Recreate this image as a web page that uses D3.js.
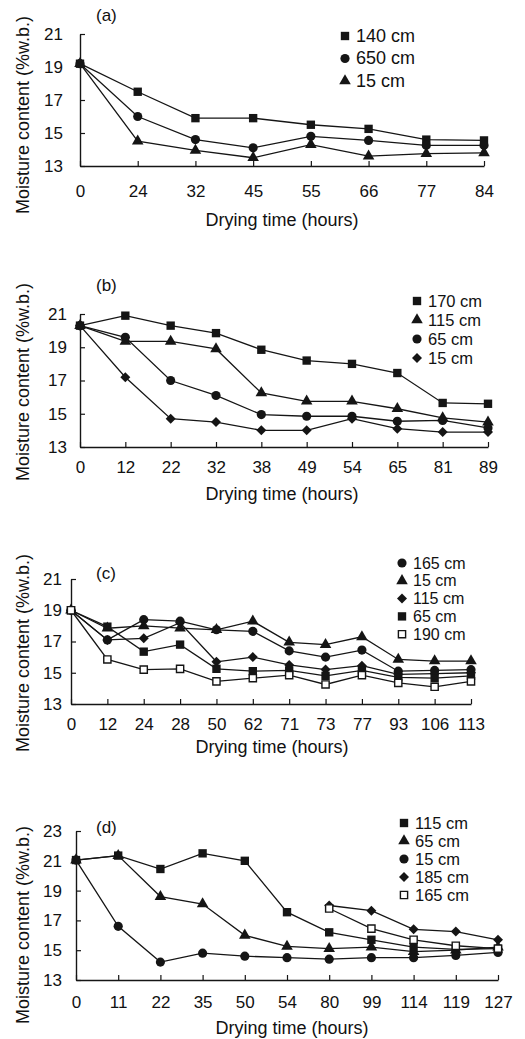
<!DOCTYPE html>
<html>
    <head>
        <title>Moisture content vs drying time</title>
        <meta charset="UTF-8">
        <script type="text/javascript" src="https://cdn.jsdelivr.net/npm/d3@7"></script>
        <style type="text/css">
            body { margin: 0; background: #fff; }
            text { font-family: "Liberation Sans", Arial, Helvetica, sans-serif; fill: #111; }
        </style>
    </head>
    <body>
        <div id="chart"></div>

        <script type="text/javascript">

            var svgW = 525;
            var svgH = 1039;

            // (a) drying time categories and series (moisture %w.b.)
            var timesA = ["0", "24", "32", "45", "55", "66", "77", "84"];
            var a140 = [19.2, 17.5, 15.9, 15.9, 15.5, 15.25, 14.6, 14.55];
            var a650 = [19.2, 16.0, 14.6, 14.1, 14.8, 14.55, 14.25, 14.25];
            var a15 = [19.2, 14.5, 13.95, 13.5, 14.3, 13.6, 13.75, 13.8];

            // (b)
            var timesB = ["0", "12", "22", "32", "38", "49", "54", "65", "81", "89"];
            var b170 = [20.3, 20.9, 20.3, 19.85, 18.85, 18.2, 18.0, 17.45, 15.65, 15.6];
            var b115 = [20.3, 19.35, 19.35, 18.9, 16.25, 15.75, 15.75, 15.3, 14.75, 14.5];
            var b65 = [20.3, 19.6, 17.0, 16.1, 14.95, 14.85, 14.85, 14.55, 14.6, 14.15];
            var b15 = [20.3, 17.2, 14.7, 14.5, 14.0, 14.0, 14.7, 14.1, 13.9, 13.9];

            // (c)
            var timesC = ["0", "12", "24", "28", "50", "62", "71", "73", "77", "93", "106", "113"];
            var c165 = [19.0, 17.1, 18.4, 18.3, 17.75, 17.65, 16.4, 16.0, 16.45, 15.1, 15.15, 15.2];
            var c15 = [19.0, 17.85, 18.0, 17.85, 17.75, 18.3, 16.95, 16.8, 17.3, 15.85, 15.75, 15.75];
            var c115 = [19.0, 17.1, 17.2, 18.2, 15.7, 16.0, 15.5, 15.2, 15.45, 14.9, 14.95, 15.0];
            var c65 = [19.0, 17.95, 16.35, 16.8, 15.25, 15.1, 15.15, 14.8, 15.15, 14.7, 14.65, 14.8];
            var c190 = [19.0, 15.85, 15.2, 15.25, 14.45, 14.65, 14.85, 14.25, 14.85, 14.35, 14.1, 14.45];

            // (d) - 185 cm and 165 cm start at 80 h
            var timesD = ["0", "11", "22", "35", "50", "54", "80", "99", "114", "119", "127"];
            var d115 = [21.05, 21.35, 20.45, 21.5, 21.0, 17.55, 16.2, 15.7, 15.2, 15.05, 15.1];
            var d65 = [21.05, 21.35, 18.6, 18.1, 16.0, 15.25, 15.1, 15.2, 14.9, 15.0, 15.2];
            var d15 = [21.05, 16.6, 14.2, 14.8, 14.6, 14.5, 14.4, 14.5, 14.5, 14.65, 14.85];
            var d185 = [null, null, null, null, null, null, 18.0, 17.65, 16.4, 16.25, 15.7];
            var d165 = [null, null, null, null, null, null, 17.8, 16.45, 15.7, 15.3, 15.1];

            var yTicksA = [13, 15, 17, 19, 21];
            var yTicksD = [13, 15, 17, 19, 21, 23];

            // panel layout (pixels)
            var panels = [
                {tag: "(a)", times: timesA, yDomain: [13, 21], yTicks: yTicksA,
                    left: 80, right: 484, top: 34, bottom: 166, tickDy: 31, labGap: 17,
                    titleY: 226, titleX: 282, yTitleC: 115, tagY: 21,
                    legX: 345, legY: 36, legStep: 22.5, legFont: 18,
                    series: [{name: "140 cm", v: a140, sym: "square"},
                        {name: "650 cm", v: a650, sym: "circle"},
                        {name: "15 cm", v: a15, sym: "triangle"}]},
                {tag: "(b)", times: timesB, yDomain: [13, 21], yTicks: yTicksA,
                    left: 80, right: 488, top: 314, bottom: 447, tickDy: 26, labGap: 13,
                    titleY: 500, titleX: 282, yTitleC: 382, tagY: 291,
                    legX: 417, legY: 301, legStep: 19, legFont: 16.5,
                    series: [{name: "170 cm", v: b170, sym: "square"},
                        {name: "115 cm", v: b115, sym: "triangle"},
                        {name: "65 cm", v: b65, sym: "circle"},
                        {name: "15 cm", v: b15, sym: "diamond"}]},
                {tag: "(c)", times: timesC, yDomain: [13, 21], yTicks: yTicksA,
                    left: 71, right: 471, top: 579, bottom: 704, tickDy: 26, labGap: 9,
                    titleY: 753, titleX: 272, yTitleC: 653, tagY: 579,
                    legX: 402, legY: 563, legStep: 17.8, legFont: 16,
                    series: [{name: "165 cm", v: c165, sym: "circle"},
                        {name: "15 cm", v: c15, sym: "triangle"},
                        {name: "115 cm", v: c115, sym: "diamond"},
                        {name: "65 cm", v: c65, sym: "square"},
                        {name: "190 cm", v: c190, sym: "open"}]},
                {tag: "(d)", times: timesD, yDomain: [13, 23], yTicks: yTicksD,
                    left: 76, right: 498, top: 831, bottom: 980, tickDy: 28, labGap: 14,
                    titleY: 1034, titleX: 292, yTitleC: 925, tagY: 833,
                    legX: 404, legY: 823, legStep: 18, legFont: 16.5,
                    series: [{name: "115 cm", v: d115, sym: "square"},
                        {name: "65 cm", v: d65, sym: "triangle"},
                        {name: "15 cm", v: d15, sym: "circle"},
                        {name: "185 cm", v: d185, sym: "diamond"},
                        {name: "165 cm", v: d165, sym: "open"}]}
            ];

            var ink = "#151515";

            var svg = d3.select("#chart").append("svg")
                    .attr("width", svgW)
                    .attr("height", svgH);

            function symbolPath(sym) {
                if (sym === "circle")
                    return d3.symbol().type(d3.symbolCircle).size(66)();
                if (sym === "triangle")
                    return d3.symbol().type(d3.symbolTriangle).size(58)();
                if (sym === "diamond")
                    return d3.symbol().type(d3.symbolSquare).size(50)();
                return d3.symbol().type(d3.symbolSquare).size(70)();
            }

            function drawMarker(g, sym, x, y) {
                var p = g.append("path")
                        .attr("d", symbolPath(sym))
                        .attr("transform", "translate(" + x + "," + y + ")" + (sym === "diamond" ? " rotate(45)" : ""));
                if (sym === "open") {
                    p.attr("fill", "#fff").attr("stroke", ink).attr("stroke-width", 1.4)
                            .attr("d", d3.symbol().type(d3.symbolSquare).size(52)());
                } else {
                    p.attr("fill", ink);
                }
            }

            panels.forEach(function (P) {
                var g = svg.append("g");
                var x = d3.scalePoint().domain(P.times).range([P.left, P.right]).padding(0);
                var y = d3.scaleLinear().domain(P.yDomain).range([P.bottom, P.top]);

                // x axis, ticks pointing up
                var xAxis = d3.axisBottom(x).tickSizeInner(-5).tickSizeOuter(0).tickPadding(0);
                var gx = g.append("g").attr("transform", "translate(0," + P.bottom + ")").call(xAxis);
                gx.select(".domain").attr("stroke", ink).attr("stroke-width", 1.4);
                gx.selectAll(".tick line").attr("stroke", ink).attr("stroke-width", 1.2);
                gx.selectAll(".tick text")
                        .attr("y", P.tickDy).attr("dy", null)
                        .style("font-size", "17px").style("font-family", null).attr("fill", ink);

                // y axis, ticks pointing right
                var yAxis = d3.axisLeft(y).tickValues(P.yTicks).tickSizeInner(-5).tickSizeOuter(0).tickPadding(P.labGap);
                var gy = g.append("g").attr("transform", "translate(" + P.left + ",0)").call(yAxis);
                gy.select(".domain").attr("stroke", ink).attr("stroke-width", 1.4);
                gy.selectAll(".tick line").attr("stroke", ink).attr("stroke-width", 1.2);
                gy.selectAll(".tick text")
                        .style("font-size", "17px").style("font-family", null).attr("fill", ink);

                // titles
                g.append("text").attr("x", P.titleX).attr("y", P.titleY)
                        .attr("text-anchor", "middle").style("font-size", "18px")
                        .text("Drying time (hours)");
                g.append("text")
                        .attr("transform", "translate(29," + P.yTitleC + ") rotate(-90)")
                        .attr("text-anchor", "middle").style("font-size", "18px")
                        .text("Moisture content (%w.b.)");
                g.append("text").attr("x", 96).attr("y", P.tagY)
                        .style("font-size", "17px").text(P.tag);

                // lines
                var line = d3.line()
                        .defined(function (d) { return d != null; })
                        .x(function (d, i) { return x(P.times[i]); })
                        .y(function (d) { return y(d); });
                P.series.forEach(function (s) {
                    g.append("path").datum(s.v)
                            .attr("d", line)
                            .attr("fill", "none")
                            .attr("stroke", ink)
                            .attr("stroke-width", 1.3);
                });
                // markers
                P.series.forEach(function (s) {
                    s.v.forEach(function (v, i) {
                        if (v == null) return;
                        drawMarker(g, s.sym, x(P.times[i]), y(v));
                    });
                });

                // legend
                P.series.forEach(function (s, k) {
                    var ly = P.legY + k * P.legStep;
                    drawMarker(g, s.sym, P.legX, ly);
                    g.append("text").attr("x", P.legX + 11).attr("y", ly + 5.5)
                            .style("font-size", P.legFont + "px").text(s.name);
                });
            });
        </script>
    </body>
</html>
